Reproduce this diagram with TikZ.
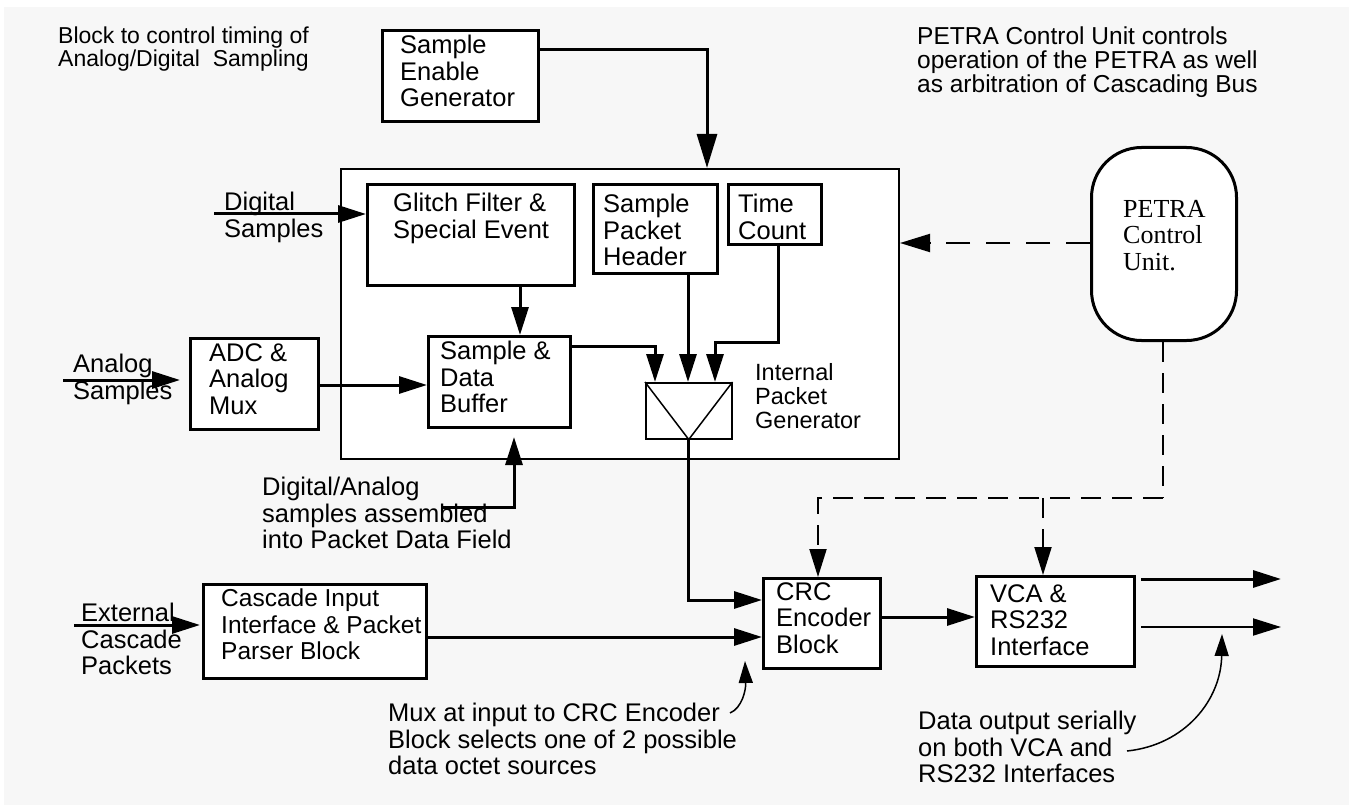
\documentclass[tikz,border=0pt]{standalone}
\usepackage{fontspec}
\setmainfont{Liberation Sans}
\newfontfamily\petrafont{Liberation Serif}
\usetikzlibrary{arrows.meta,calc}
\definecolor{paper}{HTML}{F7F7F7}

\tikzset{
  blk/.style={draw, line width=3pt, fill=white, inner sep=0pt, anchor=north west},
  lbl/.style={font=\fontsize{25.5}{26.5}\selectfont, align=left, inner sep=0pt, anchor=north west},
  smalllbl/.style={lbl, font=\fontsize{23.5}{24}\selectfont},
  tllbl/.style={lbl, font=\fontsize{23}{23}\selectfont},
  toplbl/.style={lbl, font=\fontsize{24.5}{24}\selectfont},
  casclbl/.style={lbl, font=\fontsize{24.5}{26.5}\selectfont},
  seriflbl/.style={lbl, font=\petrafont\fontsize{26}{26.5}\selectfont},
  flow/.style={line width=3pt, -{Triangle[length=28pt,width=17pt]}},
  bigflow/.style={line width=3pt, -{Triangle[length=34pt,width=20pt]}},
  thinflow/.style={line width=2pt, -{Triangle[length=28pt,width=17pt]}},
  ctrl/.style={line width=2pt, dash pattern=on 20pt off 11pt},
  ctrlarrow/.style={ctrl, -{Triangle[length=28pt,width=17pt]}},
  longctrl/.style={line width=2pt, dash pattern=on 24pt off 16pt, -{Triangle[length=30pt,width=18pt]}},
  pointer/.style={line width=1.5pt, -{Triangle[length=22pt,width=14pt]}},
}

\begin{document}
\begin{tikzpicture}[x=1pt,y=-1pt]
\useasboundingbox (0,0) rectangle (1349,805);
\fill[paper] (4,7) rectangle (1349,805);

% ---- blocks ----
\node[draw, line width=2pt, fill=white, inner sep=0pt, anchor=north west,
      minimum width=558pt, minimum height=290pt] (core) at (340,168) {};
\node[blk, minimum width=156pt, minimum height=91pt] (seg) at (381,29) {};
\node[blk, minimum width=207pt, minimum height=101pt] (glitch) at (366,183) {};
\node[blk, minimum width=124pt, minimum height=89pt] (sph) at (592,183) {};
\node[blk, minimum width=93pt, minimum height=60pt] (tc) at (727,183) {};
\node[blk, minimum width=142pt, minimum height=91pt] (buf) at (427,335) {};
\node[blk, minimum width=128pt, minimum height=91pt] (adc) at (189,337) {};
\node[draw, line width=1.5pt, fill=white, inner sep=0pt, anchor=north west,
      minimum width=86pt, minimum height=56pt] (mux) at (645,382) {};
\draw[line width=1.5pt] (mux.north west) -- (mux.south) -- (mux.north east);
\node[blk, rounded corners=50pt, minimum width=145pt, minimum height=193pt] (petra) at (1090,146) {};
\node[blk, minimum width=117pt, minimum height=90pt] (crc) at (762,577) {};
\node[blk, minimum width=158pt, minimum height=90pt] (vca) at (975,575) {};
\node[blk, minimum width=223pt, minimum height=94pt] (casc) at (202,583) {};

% ---- texts ----
\node[tllbl] (tltext) at (58,27) {Block to control timing of\\Analog/Digital\ \ Sampling};
\node[toplbl] (trtext) at (917,27) {PETRA Control Unit controls\\operation of the PETRA as well\\as arbitration of Cascading Bus};
\node[lbl] (segtext) at (400,35) {Sample\\Enable\\Generator};
\node[lbl] (dstext) at (224,192) {Digital\\Samples};
\node[lbl] (gltext) at (393,193) {Glitch Filter \&\\Special Event};
\node[lbl] (sphtext) at (603,194) {Sample\\Packet\\Header};
\node[lbl] (tctext) at (738,194) {Time\\Count};
\node[lbl] (buftext) at (440,341) {Sample \&\\Data\\Buffer};
\node[lbl] (adctext) at (209,343) {ADC \&\\Analog\\Mux};
\node[lbl] (astext) at (73,354) {Analog\\Samples};
\node[smalllbl] (ipgtext) at (755,363) {Internal\\Packet\\Generator};
\node[seriflbl] (petratext) at (1123,200) {PETRA\\Control\\Unit.};
\node[lbl] (datext) at (262,477) {Digital/Analog\\samples assembled\\into Packet Data Field};
\node[casclbl] (casctext) at (221,589) {Cascade Input\\Interface \& Packet\\Parser Block};
\node[lbl] (ectext) at (81,603) {External\\Cascade\\Packets};
\node[lbl] (crctext) at (776,582) {CRC\\Encoder\\Block};
\node[lbl] (vcatext) at (990,584) {VCA \&\\RS232\\Interface};
\node[lbl] (muxtext) at (388,703) {Mux at input to CRC Encoder\\Block selects one of 2 possible\\data octet sources};
\node[lbl] (dotext) at (918,711) {Data output serially\\on both VCA and\\RS232 Interfaces};

% ---- free ends ----
\coordinate (dsin) at (214,214);
\coordinate (asin) at (63,380);
\coordinate (asend) at (180,380);
\coordinate (ecin) at (74,625);
\coordinate (ecend) at (200,625);
\coordinate (outa) at (1281,579);
\coordinate (outb) at (1281,627);
\coordinate (ctrlbus) at (1163,498);
\coordinate (ptrtip) at (514,437);

% ---- data flow ----
\draw[bigflow] ($(seg.north east)+(0,21)$) -| (core.north -| 707,0);
\draw[flow] (dsin) -- (glitch.west |- dsin);
\draw[flow] (glitch.south -| 520,0) -- (buf.north -| 520,0);
\draw[flow] (asin) -- (asend);
\draw[flow] (adc.east |- 0,385) -- (buf.west |- 0,385);
\draw[flow] (buf.east |- 0,346) -| (mux.north -| 655,0);
\draw[flow] (sph.south -| 688,0) -- (mux.north -| 688,0);
\draw[flow] (tc.south -| 778,0) -- (778,342) -| (mux.north -| 715,0);
\draw[flow] (mux.south) |- (crc.west |- 0,600);
\draw[flow] (ecin) -- (ecend);
\draw[flow] (casc.east |- 0,637) -- (crc.west |- 0,637);
\draw[flow] (crc.east |- 0,617) -- (vca.west |- 0,617);
\draw[flow] ($(vca.north east)+(5,4)$) -- (outa);
\draw[thinflow] ($(vca.north east)+(5,52)$) -- (outb);
\draw[flow] ($(datext.north west)+(181,30)$) -| (ptrtip);

% ---- control ----
\draw[longctrl] (petra.west |- 0,243) -- (core.east |- 0,243);
\draw[ctrl] (petra.south -| ctrlbus) -- (ctrlbus);
\draw[ctrlarrow] (ctrlbus) -| (crc.north -| 818,0);
\draw[ctrlarrow] (1043,498) -- (vca.north -| 1043,0);

% ---- annotation pointers ----
\draw[pointer] ($(muxtext.north west)+(342,10)$) .. controls (742,708) and (746,690) .. (745,661);
\draw[pointer] ($(dotext.north west)+(209,40)$) .. controls (1185,745) and (1221,700) .. (1222,634);
\end{tikzpicture}
\end{document}
